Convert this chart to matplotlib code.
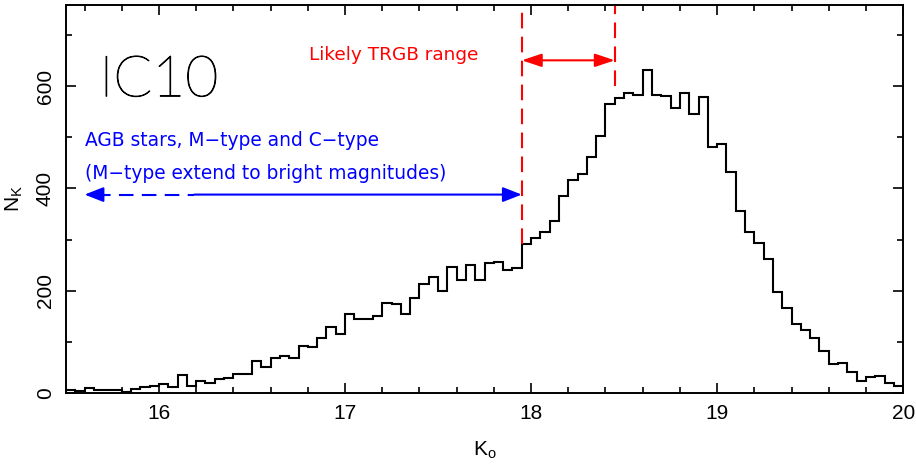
"""
IC10 K-band luminosity function with AGB / TRGB annotations.
"""

import numpy as np
import matplotlib
matplotlib.use("Agg")
import matplotlib.pyplot as plt
import matplotlib.patheffects as pe
from matplotlib.ticker import MultipleLocator

matplotlib.rcParams.update({
    "font.family": ["Liberation Sans Narrow", "Liberation Sans", "DejaVu Sans"],
    "axes.linewidth": 1.4,
})

# K0 histogram, 0.05 mag bins from 15.5 to 20.0
bin_lo = 15.5
bin_width = 0.05
counts = [
    5, 3, 9, 6, 6, 5, 2, 7, 12, 14,
    17, 12, 35, 13, 22, 19, 27, 29, 37, 36,
    62, 51, 67, 71, 68, 92, 90, 107, 129, 114,
    155, 145, 145, 150, 176, 174, 155, 186, 212, 227,
    199, 246, 220, 250, 220, 253, 255, 240, 244, 292,
    302, 314, 336, 385, 416, 429, 461, 502, 566, 578,
    587, 584, 632, 584, 581, 558, 587, 545, 580, 481,
    488, 433, 355, 315, 294, 261, 198, 166, 134, 123,
    108, 82, 56, 58, 40, 22, 30, 33, 18, 14,
]

# TRGB range and AGB arrow extents
trgb_lo, trgb_hi = 17.95, 18.45
trgb_lo_top, trgb_hi_top = 292, 600
trgb_arrow_y = 651
agb_left, agb_dash_end, agb_right = 15.6, 16.19, 17.95
agb_arrow_y = 388

xlim = (15.5, 20.0)
ylim = (0, 760)

edges = bin_lo + bin_width * np.arange(len(counts) + 1)

fig = plt.figure(figsize=(9.16, 4.68), dpi=100)
ax = fig.add_axes([0.072, 0.161, 0.914, 0.829])

ax.stairs(counts, edges, color="black", lw=1.5, baseline=None)

ax.set_xlim(*xlim)
ax.set_ylim(*ylim)

ax.xaxis.set_major_locator(MultipleLocator(1))
ax.xaxis.set_minor_locator(MultipleLocator(0.2))
ax.yaxis.set_major_locator(MultipleLocator(200))
ax.yaxis.set_minor_locator(MultipleLocator(100))
ax.tick_params(which="both", direction="in", top=True, right=True,
               width=1.2, labelsize=15)
ax.tick_params(which="major", length=7.5)
ax.tick_params(which="minor", length=4)
ax.tick_params(axis="x", pad=8)
ax.tick_params(axis="y", pad=8)
for lab in ax.get_yticklabels():
    lab.set_rotation(90)
    lab.set_va("center")

ax.set_xlabel(r"K$_\mathregular{o}$", fontsize=15, labelpad=12)
ax.set_ylabel(r"N$_\mathregular{K}$", fontsize=15, labelpad=8)

# galaxy name
ax.text(15.68, 612, "IC10", fontsize=41, family=["Lato", "DejaVu Sans"],
        fontweight="light", va="center", ha="left", color="black",
        path_effects=[pe.withStroke(linewidth=0.7, foreground="black")])

# likely TRGB range
red = "#ff0000"
ax.plot([trgb_lo, trgb_lo], [trgb_lo_top, ylim[1]], color=red, lw=1.5,
        dashes=(7.5, 4))
ax.plot([trgb_hi, trgb_hi], [trgb_hi_top, ylim[1]], color=red, lw=1.5,
        dashes=(7.5, 4))
ax.annotate("", xy=(trgb_hi, trgb_arrow_y), xytext=(trgb_lo, trgb_arrow_y),
            arrowprops=dict(arrowstyle="<|-|>,head_length=1.2,head_width=0.4",
                            color=red, lw=1.5, shrinkA=0, shrinkB=0,
                            mutation_scale=10))
ax.text(17.26, 662, "Likely TRGB range", color=red, fontsize=13.3,
        family="DejaVu Sans", ha="center", va="center")

# AGB stars arrow
blue = "#0000ff"
ax.text(agb_left, 494, "AGB stars, M\u2212type and C\u2212type", color=blue,
        fontsize=13.4, family="DejaVu Sans", ha="left", va="center")
ax.text(agb_left, 430, "(M\u2212type extend to bright magnitudes)", color=blue,
        fontsize=13.4, family="DejaVu Sans", ha="left", va="center")
ax.annotate("", xy=(agb_right, agb_arrow_y), xytext=(agb_dash_end, agb_arrow_y),
            arrowprops=dict(arrowstyle="-|>,head_length=1.15,head_width=0.45",
                            color=blue, lw=1.5, shrinkA=0, shrinkB=0,
                            mutation_scale=10))
ax.plot([agb_left + 0.06, agb_dash_end], [agb_arrow_y, agb_arrow_y],
        color=blue, lw=1.5, dashes=(7, 4))
ax.annotate("", xy=(agb_left, agb_arrow_y), xytext=(agb_left + 0.08, agb_arrow_y),
            arrowprops=dict(arrowstyle="-|>,head_length=1.15,head_width=0.45",
                            color=blue, lw=1.5, shrinkA=0, shrinkB=0,
                            mutation_scale=10))

fig.savefig("out.png", dpi=100)
